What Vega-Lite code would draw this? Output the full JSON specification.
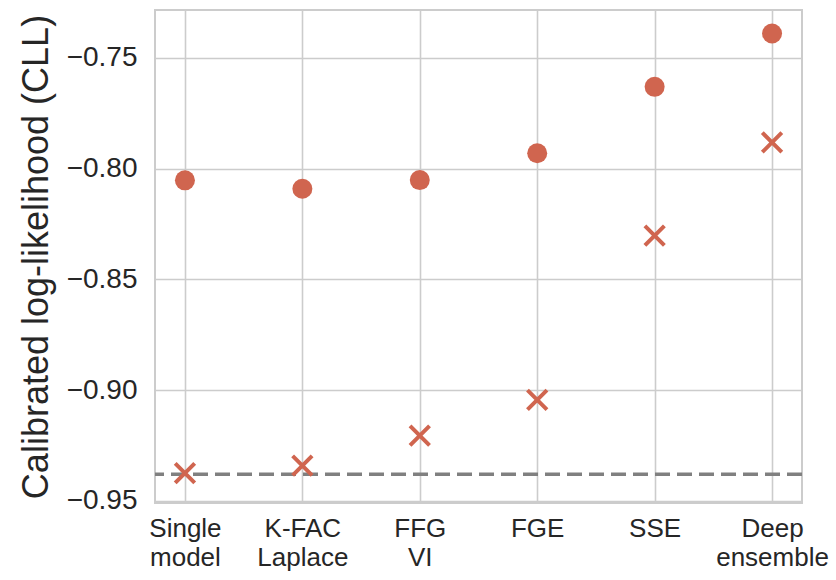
{
  "$schema": "https://vega.github.io/schema/vega-lite/v6.json",
  "width": 647,
  "height": 493,
  "autosize": {"type": "none"},
  "padding": {"left": 155, "top": 10, "right": 34, "bottom": 77},
  "background": "white",
  "config": {
    "font": "Liberation Sans",
    "view": {"stroke": "#cccccc", "strokeWidth": 2},
    "axis": {
      "domain": false,
      "ticks": false,
      "grid": true,
      "gridColor": "#cccccc",
      "gridWidth": 1.6,
      "labelFont": "Liberation Sans",
      "labelColor": "#262626",
      "titleFont": "Liberation Sans",
      "titleColor": "#262626",
      "titleFontWeight": "normal"
    }
  },
  "datasets": {
    "points": [
      {"method": "Single|model", "series": "circle series", "cll": -0.8053},
      {"method": "K-FAC|Laplace", "series": "circle series", "cll": -0.8091},
      {"method": "FFG|VI", "series": "circle series", "cll": -0.8052},
      {"method": "FGE", "series": "circle series", "cll": -0.7931},
      {"method": "SSE", "series": "circle series", "cll": -0.7631},
      {"method": "Deep|ensemble", "series": "circle series", "cll": -0.7390},
      {"method": "Single|model", "series": "cross series", "cll": -0.9375},
      {"method": "K-FAC|Laplace", "series": "cross series", "cll": -0.9341},
      {"method": "FFG|VI", "series": "cross series", "cll": -0.9206},
      {"method": "FGE", "series": "cross series", "cll": -0.9044},
      {"method": "SSE", "series": "cross series", "cll": -0.8303},
      {"method": "Deep|ensemble", "series": "cross series", "cll": -0.7882}
    ],
    "baseline": [{"cll": -0.938}]
  },
  "layer": [
    {
      "data": {"name": "points"},
      "transform": [{"filter": "datum.series == 'circle series'"}],
      "mark": {"type": "point", "shape": "circle", "filled": true, "size": 400, "color": "#d0654f", "opacity": 1},
      "encoding": {
        "x": {
          "field": "method",
          "type": "nominal",
          "sort": null,
          "scale": {"type": "point", "padding": 0.255, "domain": ["Single|model", "K-FAC|Laplace", "FFG|VI", "FGE", "SSE", "Deep|ensemble"]},
          "axis": {"title": null, "labelAngle": 0, "labelFontSize": 26, "labelPadding": 12, "labelLineHeight": 29, "labelExpr": "split(datum.label, '|')"}
        },
        "y": {
          "field": "cll",
          "type": "quantitative",
          "scale": {"domain": [-0.951, -0.7284], "nice": false, "zero": false},
          "axis": {"title": "Calibrated log-likelihood (CLL)", "titleFontSize": 36, "titlePadding": 11, "labelFontSize": 28, "labelPadding": 18, "values": [-0.95, -0.9, -0.85, -0.8, -0.75], "format": ".2f"}
        }
      }
    },
    {
      "data": {"name": "baseline"},
      "mark": {"type": "rule", "color": "#808080", "strokeWidth": 3.5, "strokeDash": [15, 7]},
      "encoding": {"y": {"field": "cll", "type": "quantitative"}}
    },
    {
      "data": {"name": "points"},
      "transform": [{"filter": "datum.series == 'cross series'"}],
      "mark": {"type": "point", "shape": "M-1,-1L1,1M1,-1L-1,1", "filled": false, "size": 380, "strokeWidth": 4, "color": "#d0654f", "opacity": 1},
      "encoding": {
        "x": {"field": "method", "type": "nominal"},
        "y": {"field": "cll", "type": "quantitative"}
      }
    }
  ]
}
